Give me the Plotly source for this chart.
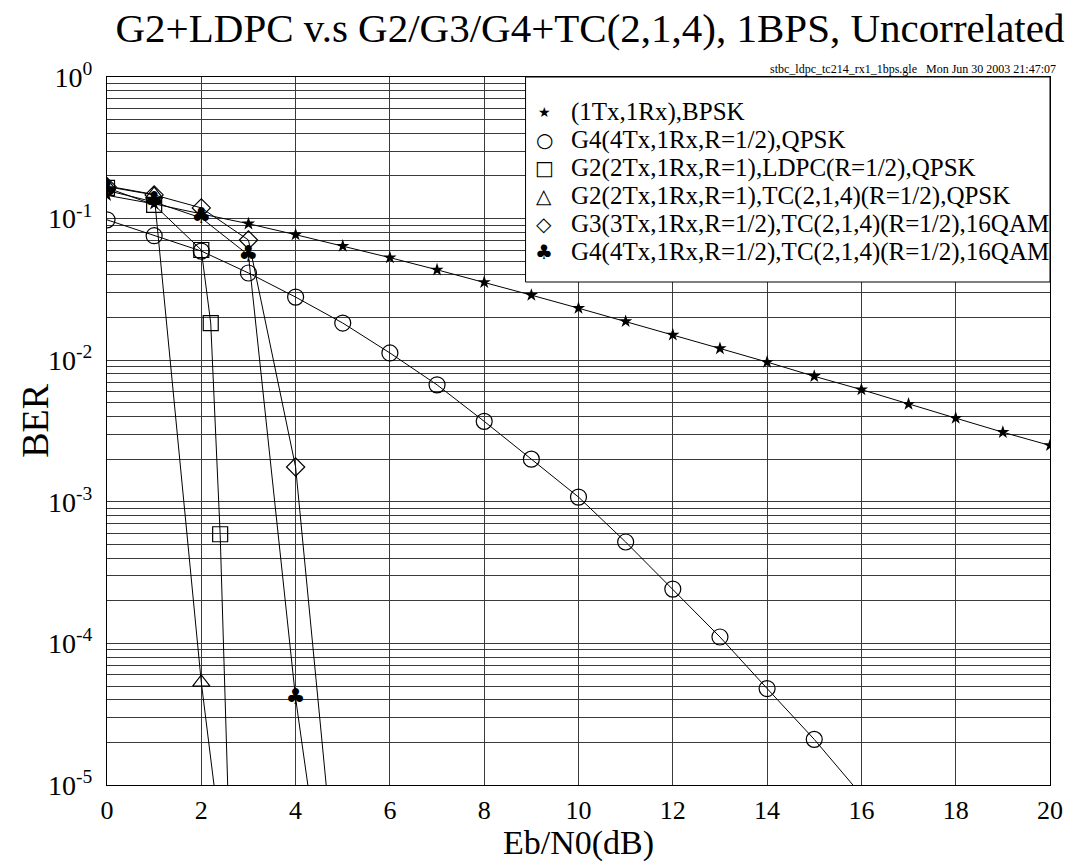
import plotly.graph_objects as go

# ---------------- data ----------------
ebn0_bpsk = list(range(0, 21))
ber_bpsk = [0.146, 0.127, 0.108, 0.092, 0.077, 0.064, 0.053, 0.0435, 0.0355, 0.0288, 0.0233,
            0.0188, 0.0151, 0.0121, 0.0097, 0.0077, 0.0062, 0.0049, 0.0039, 0.0031, 0.0025]

ebn0_g4_qpsk = list(range(0, 17))
ber_g4_qpsk = [0.098, 0.0757, 0.059, 0.0413, 0.0279, 0.0183, 0.01125, 0.0067, 0.0037, 0.0020,
               0.00108, 5.2e-4, 2.42e-4, 1.11e-4, 4.8e-5, 2.1e-5, 8.5e-6]

ebn0_g2_ldpc = [0, 1, 2, 2.2, 2.4, 2.6]
ber_g2_ldpc = [0.165, 0.125, 0.060, 0.0183, 5.9e-4, 3.6e-6]

ebn0_g2_tc = [0, 1, 2, 2.5]
ber_g2_tc = [0.17, 0.148, 5.3e-5, 2.4e-6]

ebn0_g3_tc = [0, 1, 2, 3, 4, 5]
ber_g3_tc = [0.168, 0.147, 0.119, 0.0706, 1.76e-3, 6.1e-7]

ebn0_g4_tc = [0, 1, 2, 3, 4, 5]
ber_g4_tc = [0.158, 0.131, 0.101, 0.0553, 4.1e-5, 1.8e-7]

series_names = [
    "(1Tx,1Rx),BPSK",
    "G4(4Tx,1Rx,R=1/2),QPSK",
    "G2(2Tx,1Rx,R=1),LDPC(R=1/2),QPSK",
    "G2(2Tx,1Rx,R=1),TC(2,1,4)(R=1/2),QPSK",
    "G3(3Tx,1Rx,R=1/2),TC(2,1,4)(R=1/2),16QAM",
    "G4(4Tx,1Rx,R=1/2),TC(2,1,4)(R=1/2),16QAM",
]
legend_glyphs = ["★", "○", "□", "△", "◇", "♣"]

x_tick_vals = list(range(0, 21, 2))
y_tick_vals = [1, 1e-1, 1e-2, 1e-3, 1e-4, 1e-5]
y_tick_text = ["10<sup>0</sup>", "10<sup>-1</sup>", "10<sup>-2</sup>",
               "10<sup>-3</sup>", "10<sup>-4</sup>", "10<sup>-5</sup>"]

title_text = "G2+LDPC v.s G2/G3/G4+TC(2,1,4), 1BPS, Uncorrelated"
x_title = "Eb/N0(dB)"
y_title = "BER"
stamp_text = "stbc_ldpc_tc214_rx1_1bps.gle   Mon Jun 30 2003 21:47:07"

Y_MIN, Y_MAX = 1e-5, 1.0

# ---------------- layout geometry (pixels) ----------------
W, H = 1075, 864
L, R, T, B = 107, 1060, 77, 785
SERIF = "Liberation Serif, Times New Roman, serif"


def px(xp):
    return (xp - L) / (R - L)


def py(yp):
    return (B - yp) / (B - T)


fig = go.Figure()
line = dict(color="black", width=1)

fig.add_trace(go.Scatter(x=ebn0_bpsk, y=ber_bpsk, mode="lines+markers", line=line,
                         marker=dict(symbol="star", size=10, color="black"),
                         name=series_names[0], showlegend=False))
fig.add_trace(go.Scatter(x=ebn0_g4_qpsk, y=ber_g4_qpsk, mode="lines+markers", line=line,
                         marker=dict(symbol="circle-open", size=16, color="black",
                                     line=dict(width=1.2, color="black")),
                         name=series_names[1], showlegend=False))
fig.add_trace(go.Scatter(x=ebn0_g2_ldpc, y=ber_g2_ldpc, mode="lines+markers", line=line,
                         marker=dict(symbol="square-open", size=15, color="black",
                                     line=dict(width=1.2, color="black")),
                         name=series_names[2], showlegend=False))
fig.add_trace(go.Scatter(x=ebn0_g2_tc, y=ber_g2_tc, mode="lines+markers", line=line,
                         marker=dict(symbol="triangle-up-open", size=15, color="black",
                                     line=dict(width=1.2, color="black")),
                         name=series_names[3], showlegend=False))
fig.add_trace(go.Scatter(x=ebn0_g3_tc, y=ber_g3_tc, mode="lines+markers", line=line,
                         marker=dict(symbol="diamond-open", size=14, color="black",
                                     line=dict(width=1.2, color="black")),
                         name=series_names[4], showlegend=False))
fig.add_trace(go.Scatter(x=ebn0_g4_tc, y=ber_g4_tc, mode="lines", line=line,
                         name=series_names[5], showlegend=False))
# club glyphs only for the points that lie inside the plotted range
club_pts = [(x, y) for x, y in zip(ebn0_g4_tc, ber_g4_tc) if Y_MIN <= y <= Y_MAX]
fig.add_trace(go.Scatter(x=[p[0] for p in club_pts], y=[p[1] for p in club_pts], mode="text",
                         text=["♣"] * len(club_pts), textposition="middle center",
                         textfont=dict(family="DejaVu Sans", size=22, color="black"),
                         name=series_names[5], showlegend=False, cliponaxis=True))

grid = "#3a3a3a"
fig.update_xaxes(range=[0, 20], tickvals=x_tick_vals, showgrid=True, gridcolor=grid, gridwidth=1,
                 showline=True, mirror=True, linecolor="black", linewidth=1, ticks="",
                 zeroline=False, ticklabelstandoff=2,
                 tickfont=dict(family=SERIF, size=26, color="black"))
fig.update_yaxes(type="log", range=[-5, 0], tickvals=y_tick_vals, ticktext=y_tick_text,
                 showgrid=True, gridcolor=grid, gridwidth=1,
                 minor=dict(tickmode="linear", dtick="D1", showgrid=True, gridcolor=grid,
                            gridwidth=1, ticks=""),
                 showline=True, mirror=True, linecolor="black", linewidth=1, ticks="",
                 ticklabelstandoff=8,
                 tickfont=dict(family=SERIF, size=28, color="black"))

# legend box (drawn manually so the club glyph and row spacing match)
LG_L, LG_R, LG_T, LG_B = 530, 1060, 77, 282
shapes = [dict(type="rect", xref="paper", yref="paper", x0=px(LG_L), x1=px(LG_R),
               y0=py(LG_B), y1=py(LG_T), line=dict(color="black", width=1),
               fillcolor="white", layer="above")]
annotations = []
row_y = [112, 140, 168, 196, 224, 252]
glyph_sizes = [14, 20, 20, 20, 20, 20]
for i, name in enumerate(series_names):
    annotations.append(dict(xref="paper", yref="paper", x=px(549), y=py(row_y[i]),
                            text=legend_glyphs[i], showarrow=False, xanchor="center",
                            yanchor="middle",
                            font=dict(family="DejaVu Sans", size=glyph_sizes[i], color="black")))
    annotations.append(dict(xref="paper", yref="paper", x=px(574), y=py(row_y[i]),
                            text=name, showarrow=False, xanchor="left", yanchor="middle",
                            font=dict(family=SERIF, size=25, color="black")))

annotations.append(dict(xref="paper", yref="paper", x=px(1068), y=py(69), text=stamp_text,
                        showarrow=False, xanchor="right", yanchor="middle",
                        font=dict(family=SERIF, size=12, color="black")))
# axis titles
annotations.append(dict(xref="paper", yref="paper", x=px(583), y=py(843), text=x_title,
                        showarrow=False, xanchor="center", yanchor="middle",
                        font=dict(family=SERIF, size=34, color="black")))
annotations.append(dict(xref="paper", yref="paper", x=px(34), y=py(420), text=y_title,
                        showarrow=False, xanchor="center", yanchor="middle", textangle=-90,
                        font=dict(family=SERIF, size=38, color="black")))

fig.update_layout(
    width=W, height=H, autosize=False,
    margin=dict(l=L, r=W - R, t=T, b=H - B, pad=0),
    paper_bgcolor="white", plot_bgcolor="white",
    title=dict(text=title_text, x=590 / W, xanchor="center", xref="container",
               y=1 - 28 / H, yanchor="middle", yref="container",
               font=dict(family=SERIF, size=41, color="black")),
    shapes=shapes, annotations=annotations, showlegend=False,
)

fig.write_html("out.html")
